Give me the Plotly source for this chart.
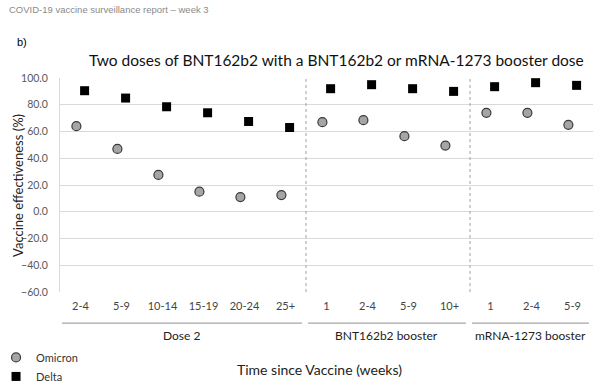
import plotly.graph_objects as go

# ---- data ----
groups = ["Dose 2", "BNT162b2 booster", "mRNA-1273 booster"]
group_labels = [
    ["2-4", "5-9", "10-14", "15-19", "20-24", "25+"],
    ["1", "2-4", "5-9", "10+"],
    ["1", "2-4", "5-9"],
]
omicron = [64.0, 47.0, 27.5, 15.0, 11.0, 12.5,
           67.0, 68.5, 56.5, 49.5,
           74.0, 74.0, 65.0]
delta = [90.5, 85.0, 78.5, 74.0, 67.5, 63.0,
         92.0, 95.0, 92.0, 90.0,
         93.5, 96.5, 94.5]
y_ticks = [-60, -40, -20, 0, 20, 40, 60, 80, 100]

# ---- derived positions ----
tick_text = [t for g in group_labels for t in g]
idx = list(range(len(tick_text)))
off = 0.1

FONT = "Lato"
fig = go.Figure()
fig.add_trace(go.Scatter(
    x=[i - off for i in idx], y=omicron, mode="markers", name="Omicron",
    marker=dict(symbol="circle", size=9, color="#a5a5a5",
                line=dict(color="#3a3a3a", width=1.2))))
fig.add_trace(go.Scatter(
    x=[i + off for i in idx], y=delta, mode="markers", name="Delta",
    marker=dict(symbol="square", size=9, color="#000000",
                line=dict(color="#000000", width=0))))

shapes = []
annotations = []
start = 0
for gi, g in enumerate(group_labels):
    end = start + len(g) - 1
    x0, x1 = start - 0.45, end + 0.4
    # group underline
    shapes.append(dict(type="line", xref="x", yref="paper",
                       x0=x0, x1=x1, y0=-0.145, y1=-0.145,
                       line=dict(color="#a6a6a6", width=1.2)))
    annotations.append(dict(xref="x", yref="paper", x=(x0 + x1) / 2,
                            y=-0.205, text=groups[gi], showarrow=False,
                            font=dict(family=FONT, size=12, color="#222222"),
                            yanchor="middle"))
    if gi < len(group_labels) - 1:
        shapes.append(dict(type="line", xref="x", yref="paper",
                           x0=end + 0.5, x1=end + 0.5, y0=0, y1=1,
                           line=dict(color="#a0a0a0", width=1, dash="dot")))
    start = end + 1

annotations += [
    dict(xref="paper", yref="paper", x=-0.1, y=1.318, xanchor="left",
         yanchor="middle", showarrow=False,
         text="COVID-19 vaccine surveillance report – week 3",
         font=dict(family="Liberation Sans", size=9.5, color="#8a8a8a")),
    dict(xref="paper", yref="paper", x=-0.085, y=1.168, xanchor="left",
         yanchor="middle", showarrow=False, text="b)",
         font=dict(family="Liberation Sans", size=11, color="#000000")),
    dict(xref="paper", yref="paper", x=0.486, y=-0.36, xanchor="center",
         yanchor="middle", showarrow=False, text="Time since Vaccine (weeks)",
         font=dict(family=FONT, size=14, color="#222222")),
    dict(xref="paper", yref="paper", x=-0.079, y=0.5, xanchor="center",
         yanchor="middle", showarrow=False, textangle=-90,
         text="Vaccine effectiveness (%)",
         font=dict(family=FONT, size=13, color="#222222")),
]

fig.update_layout(
    width=605, height=389,
    margin=dict(l=60, r=12, t=78, b=97, autoexpand=False),
    paper_bgcolor="white", plot_bgcolor="white",
    title=dict(text="Two doses of BNT162b2 with a BNT162b2 or mRNA-1273 booster dose",
               x=0.556, xanchor="center", y=0.845, yanchor="middle",
               font=dict(family=FONT, size=15.5, color="#111111")),
    showlegend=True,
    legend=dict(xref="paper", yref="paper", x=-0.12, y=-0.238,
                xanchor="left", yanchor="top", orientation="v",
                font=dict(family=FONT, size=11, color="#333333"),
                itemwidth=30, tracegroupgap=0, bgcolor="rgba(0,0,0,0)"),
    shapes=shapes, annotations=annotations,
)
fig.update_xaxes(range=[-0.5, len(idx) - 0.5], tickmode="array",
                 tickvals=idx, ticktext=tick_text, showgrid=False,
                 zeroline=False, showline=False, ticks="",
                 ticklabelstandoff=6, automargin=False,
                 tickfont=dict(family=FONT, size=11, color="#444444"))
fig.update_yaxes(range=[-60, 100], tickmode="array", tickvals=y_ticks,
                 tickformat=".1f", showgrid=True, gridcolor="#d9d9d9",
                 gridwidth=1, zeroline=False, showline=True,
                 linecolor="#d9d9d9", ticks="", automargin=False,
                 ticklabelstandoff=9,
                 tickfont=dict(family=FONT, size=10.5, color="#595959"))

fig.write_html("out.html", config={"displayModeBar": False},
               post_script="document.body.style.margin='0';")
